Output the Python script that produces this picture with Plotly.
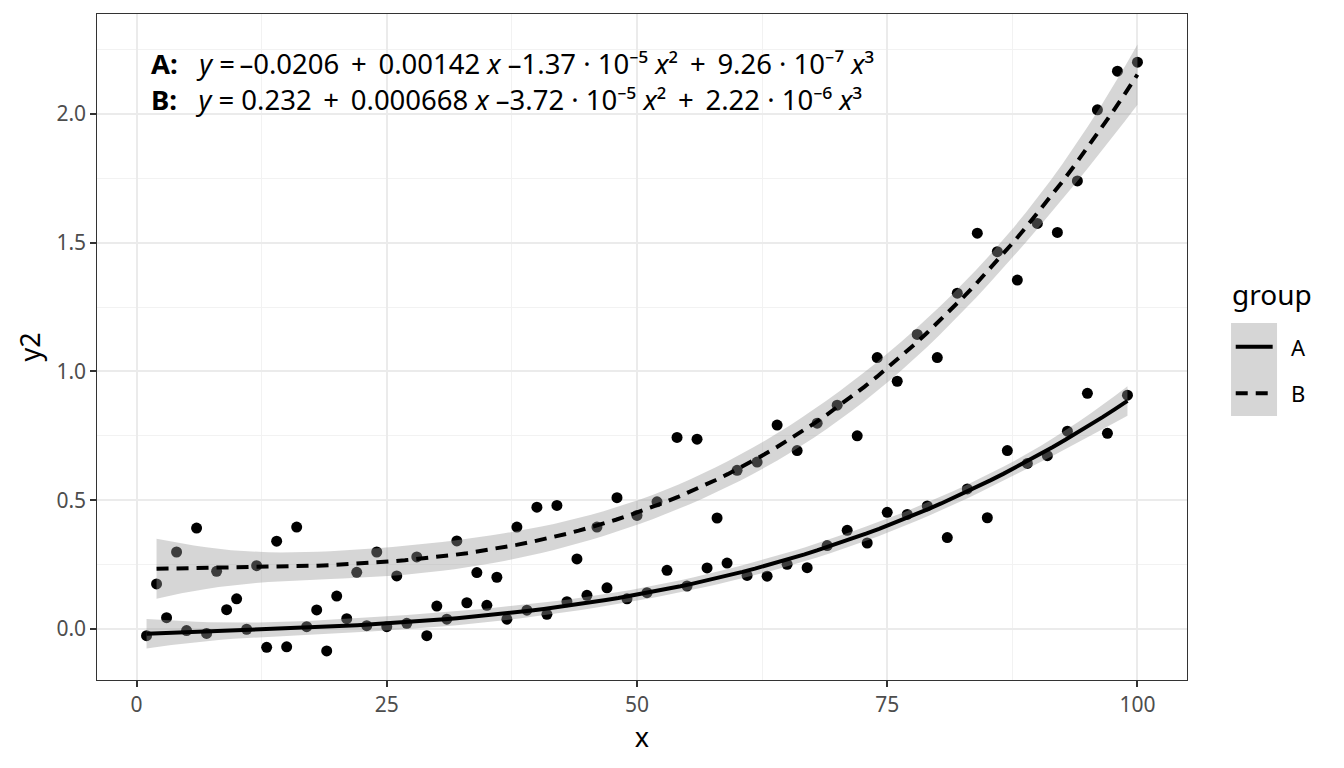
import numpy as np
import plotly.graph_objects as go

# group A sits on the odd x values, group B on the even ones
x_a = list(range(1, 100, 2))
y2_a = [-0.026, 0.044, -0.006, -0.017, 0.075, -0.001, -0.071, -0.069, 0.009, -0.085,
        0.040, 0.013, 0.009, 0.022, -0.026, 0.038, 0.102, 0.092, 0.038, 0.073,
        0.057, 0.106, 0.131, 0.160, 0.117, 0.141, 0.228, 0.167, 0.237, 0.256,
        0.208, 0.205, 0.251, 0.238, 0.324, 0.383, 0.334, 0.453, 0.445, 0.478,
        0.355, 0.544, 0.432, 0.693, 0.643, 0.673, 0.768, 0.915, 0.760, 0.908]

x_b = list(range(2, 101, 2))
y2_b = [0.175, 0.299, 0.392, 0.224, 0.117, 0.246, 0.341, 0.396, 0.074, 0.128,
        0.220, 0.299, 0.206, 0.280, 0.089, 0.342, 0.219, 0.201, 0.396, 0.473,
        0.480, 0.272, 0.396, 0.510, 0.441, 0.494, 0.744, 0.737, 0.431, 0.616,
        0.648, 0.792, 0.693, 0.799, 0.869, 0.750, 1.054, 0.962, 1.144, 1.054,
        1.304, 1.537, 1.465, 1.355, 1.575, 1.540, 1.740, 2.016, 2.166, 2.201]

groups = ["A", "B"]
group_dash = ["solid", "12px,8px"]

# superscripts as unicode characters so the two lines do not collide
eq_labels = [
    "<b>A:</b>\u00a0\u00a0\u00a0<i>y</i> =\u2009–0.0206 \u2009+\u2009 0.00142 <i>x</i> –1.37 · 10⁻⁵"
    " <i>x</i>² \u2009+\u2009 9.26 · 10⁻⁷ <i>x</i>³",
    "<b>B:</b>\u00a0\u00a0\u00a0<i>y</i> = 0.232 \u2009+\u2009 0.000668 <i>x</i> –3.72 · 10⁻⁵"
    " <i>x</i>² \u2009+\u2009 2.22 · 10⁻⁶ <i>x</i>³",
]
x_ticks = [0, 25, 50, 75, 100]
y_ticks = [0.0, 0.5, 1.0, 1.5, 2.0]

T_975 = 2.0129  # qt(0.975, df = 50 - 4)
FONT = "Noto Sans"
BAND = "rgba(153,153,153,0.4)"


def poly_fit_band(x, y, n=80):
    """Cubic least squares fit with a 95% confidence band, like stat_poly_line."""
    x = np.asarray(x, float)
    y = np.asarray(y, float)
    c, s = x.mean(), x.std()
    X = np.vander((x - c) / s, 4, increasing=True)
    beta, *_ = np.linalg.lstsq(X, y, rcond=None)
    resid = y - X @ beta
    sigma2 = resid @ resid / (len(x) - 4)
    xs = np.linspace(x.min(), x.max(), n)
    Xs = np.vander((xs - c) / s, 4, increasing=True)
    fit = Xs @ beta
    cov = np.linalg.inv(X.T @ X)
    se = np.sqrt(sigma2 * np.einsum("ij,jk,ik->i", Xs, cov, Xs))
    return xs, fit, fit - T_975 * se, fit + T_975 * se


fig = go.Figure()

# points go underneath the bands, as in the ggplot layer order
fig.add_trace(go.Scatter(x=x_a + x_b, y=y2_a + y2_b, mode="markers",
                         marker=dict(color="black", size=11), hoverinfo="skip"))

fits = [poly_fit_band(x_a, y2_a), poly_fit_band(x_b, y2_b)]
for xs, fit, lo, hi in fits:
    fig.add_trace(go.Scatter(x=np.concatenate([xs, xs[::-1]]),
                             y=np.concatenate([hi, lo[::-1]]),
                             fill="toself", fillcolor=BAND, line=dict(width=0),
                             mode="lines", hoverinfo="skip"))
for (xs, fit, lo, hi), dash in zip(fits, group_dash):
    fig.add_trace(go.Scatter(x=xs, y=fit, mode="lines",
                             line=dict(color="black", width=4, dash=dash)))

# equation labels, top left of the panel
fig.add_annotation(text="<br>".join(eq_labels), xref="paper", yref="paper", x=0.048, y=0.899,
                   xanchor="left", yanchor="middle", align="left", showarrow=False,
                   font=dict(family=FONT, size=27.5, color="black"))

# legend drawn by hand: grey key box with the line types
fig.add_shape(type="rect", xref="paper", yref="paper", x0=1.0404, x1=1.0826,
              y0=0.3964, y1=0.536, fillcolor="#D6D6D6", line=dict(width=0))
for i, (g, dash) in enumerate(zip(groups, group_dash)):
    yy = 0.5005 - i * 0.070
    fig.add_shape(type="line", xref="paper", yref="paper", x0=1.0447, x1=1.0786,
                  y0=yy, y1=yy, line=dict(color="black", width=4, dash=dash))
    fig.add_annotation(text=g, xref="paper", yref="paper", x=1.094, y=yy,
                       xanchor="left", yanchor="middle", showarrow=False,
                       font=dict(family=FONT, size=22, color="black"))
fig.add_annotation(text="group", xref="paper", yref="paper", x=1.039, y=0.580,
                   xanchor="left", yanchor="middle", showarrow=False,
                   font=dict(family=FONT, size=28, color="black"))

axis_common = dict(
    showline=True, mirror=True, linecolor="#333333", linewidth=1.3,
    showgrid=True, gridcolor="#EBEBEB", gridwidth=1.8,
    ticks="outside", ticklen=5.5, tickwidth=1.8, tickcolor="#333333",
    tickfont=dict(family=FONT, size=21, color="#4D4D4D"),
    zeroline=False,
    minor=dict(showgrid=True, gridcolor="#F2F2F2", gridwidth=1),
)
fig.update_xaxes(range=[-3.95, 104.95], tickvals=x_ticks, ticktext=[str(v) for v in x_ticks],
                 title=dict(text="x", font=dict(family=FONT, size=27, color="black"), standoff=6),
                 **axis_common)
fig.update_xaxes(minor=dict(tickvals=[12.5, 37.5, 62.5, 87.5], ticks=""))
fig.update_yaxes(range=[-0.198, 2.388], tickvals=y_ticks, ticktext=[f"{v:.1f}" for v in y_ticks],
                 title=dict(text="y2", font=dict(family=FONT, size=27, color="black"), standoff=8),
                 **axis_common)
fig.update_yaxes(minor=dict(tickvals=[-0.25, 0.25, 0.75, 1.25, 1.75, 2.25], ticks=""))

# the page body adds an 8px margin, so the figure is drawn 8px smaller and shifted back
fig.update_layout(
    width=1328, height=752,
    margin=dict(l=89, r=149, t=6, b=80, autoexpand=False),
    plot_bgcolor="white", paper_bgcolor="white",
    showlegend=False,
    font=dict(family=FONT),
)

fig.write_html("out.html")
